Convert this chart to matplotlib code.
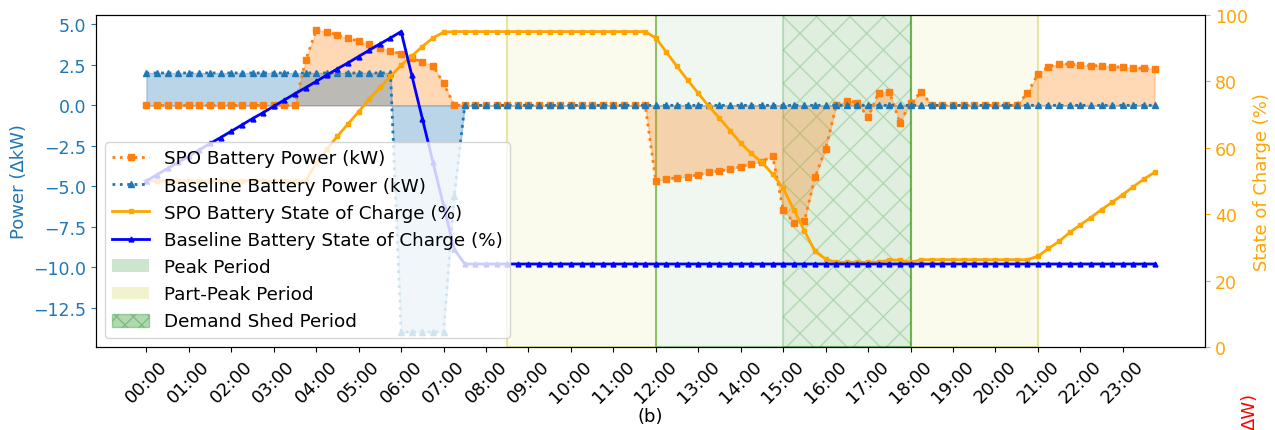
import numpy as np
import matplotlib
matplotlib.use("Agg")
import matplotlib.pyplot as plt
from matplotlib.patches import Patch

# ---- data (15-minute steps, 96 per day) ----
hour_labels = [f"{h:02d}:00" for h in range(24)]
power_ticks = [-12.5, -10.0, -7.5, -5.0, -2.5, 0.0, 2.5, 5.0]

spo_power = ([0.0] * 15 +
             [2.78, 4.65, 4.55, 4.34, 4.14, 3.97, 3.78, 3.56, 3.38, 3.15, 2.90, 2.70, 2.45, 1.36] +
             [0.0] * 19 +
             [-4.67, -4.57, -4.46, -4.40, -4.30, -4.14, -4.05, -3.95, -3.79, -3.62, -3.48, -3.10,
              -6.46, -7.24, -7.14, -4.44, -2.70, 0.0, 0.29, 0.17, -0.74, 0.78, 0.84, -1.07, 0.12, 0.84] +
             [0.0] * 9 +
             [0.74, 1.91, 2.39, 2.55, 2.55, 2.49, 2.45, 2.45, 2.39, 2.35, 2.33, 2.28, 2.26])

baseline_power = [2.0] * 24 + [-14.0] * 5 + [-5.6] + [0.0] * 66

spo_soc = ([50.0] * 16 +
           [55.5, 59.5, 63.5, 67.2, 70.9, 74.7, 78.2, 81.5, 84.9, 87.6, 90.5, 93.1, 94.8] +
           [95.0] * 19 +
           [93.1, 88.8, 84.5, 80.4, 76.4, 72.5, 68.9, 65.2, 61.4, 58.3, 55.6, 52.1, 47.8, 41.4,
            35.0, 28.8, 26.5] +
           [25.5] * 5 + [26.2] * 2 + [25.5] + [26.3] * 11 +
           [27.3, 29.7, 31.8, 34.5, 36.8, 39.0, 41.4, 43.6, 45.9, 48.3, 50.6, 52.6])

baseline_soc = ([50.0, 51.9, 53.8, 55.6, 57.5, 59.4, 61.3, 63.1, 65.0, 66.9, 68.8, 70.6, 72.5,
                 74.4, 76.3, 78.1, 80.0, 81.9, 83.8, 85.6, 87.5, 89.4, 91.3, 93.1, 95.0] +
                [81.9, 68.8, 55.7, 42.6, 29.5] + [25.0] * 66)

# period boundaries (in 15-min step units)
part_peak_periods = [(34, 48), (72, 84)]
peak_period = (48, 72)
demand_shed_period = (60, 72)

# ---- figure ----
W, H = 1275, 431
fig = plt.figure(figsize=(W / 100, H / 100), dpi=100)
ax = fig.add_axes([96 / W, 1 - 348 / H, (1205 - 96) / W, (348 - 16) / H])
ax2 = ax.twinx()

t = np.arange(len(spo_power))

for a, b in part_peak_periods:
    ax.axvspan(a, b, facecolor=(0.75, 0.75, 0, 0.07), edgecolor=(0.75, 0.75, 0, 0.35), lw=1.5)
ax.axvspan(*peak_period, facecolor=(0, 0.5, 0, 0.06), edgecolor=(0, 0.5, 0, 0.35), lw=1.5)
ax.axvspan(*demand_shed_period, facecolor=(0, 0.5, 0, 0.07), edgecolor=(0, 0.5, 0, 0.2),
           hatch='x', lw=1.5)

l1, = ax.plot(t, spo_power, ':', color='tab:orange', marker='s', ms=4.5, lw=2,
              label='SPO Battery Power (kW)')
ax.fill_between(t, spo_power, 0, color='tab:orange', alpha=0.3)
l2, = ax.plot(t, baseline_power, ':', color='tab:blue', marker='^', ms=4.5, lw=2,
              label='Baseline Battery Power (kW)')
ax.fill_between(t, baseline_power, 0, color='tab:blue', alpha=0.3)

l3, = ax2.plot(t, spo_soc, '-', color='orange', marker='s', ms=3.5, lw=2,
               label='SPO Battery State of Charge (%)')
l4, = ax2.plot(t, baseline_soc, '-', color='blue', marker='^', ms=3.5, lw=2,
               label='Baseline Battery State of Charge (%)')

ax.set_xlim(-4.75, 99.75)
ax.set_ylim(-14.93, 5.58)
ax.set_yticks(power_ticks)
ax2.set_ylim(0, 100)
ax.set_xticks(np.arange(0, 96, 4))
ax.set_xticklabels(hour_labels, rotation=45, fontsize=13)
ax.set_xlabel('(b)', fontsize=13, labelpad=1)
ax.set_ylabel('Power (ΔkW)', color='tab:blue', fontsize=13)
ax.tick_params(axis='y', colors='tab:blue', labelsize=12.5)
ax2.set_ylabel('State of Charge (%)', color='orange', fontsize=13)
ax2.tick_params(axis='y', colors='orange', labelsize=12.5)

handles = [l1, l2, l3, l4,
           Patch(facecolor=(0, 0.5, 0, 0.2), label='Peak Period'),
           Patch(facecolor=(0.75, 0.75, 0, 0.2), label='Part-Peak Period'),
           Patch(facecolor=(0, 0.5, 0, 0.3), edgecolor=(0, 0.5, 0, 0.3), hatch='xx',
                 label='Demand Shed Period')]
ax2.legend(handles=handles, loc='lower left', fontsize=13.2)

fig.text(1250 / W, 0.003, 'ΔW)', rotation=90, color='red', ha='center', va='bottom', fontsize=13)

fig.savefig('out.png', dpi=100)
